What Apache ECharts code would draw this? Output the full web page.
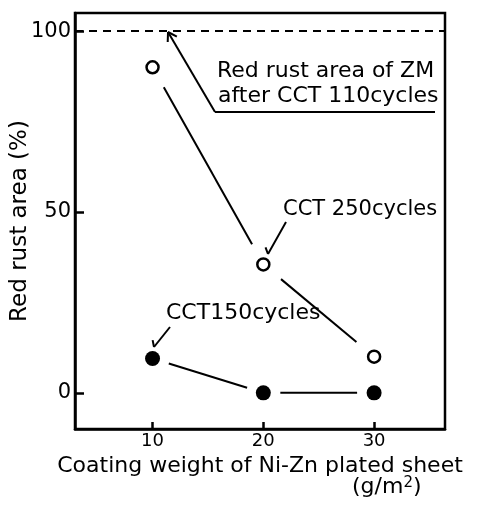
<!DOCTYPE html>
<html>
<head>
<meta charset="utf-8">
<script src="https://cdn.jsdelivr.net/npm/echarts@6/dist/echarts.min.js"></script>
<style>
  html, body { margin: 0; padding: 0; background: #fff; }
  #chart { width: 480px; height: 507px; }
</style>
</head>
<body>
<div id="chart"></div>
<script>
// data
var coatingWeight = [10, 20, 30];          // g/m2
var rust250 = [90, 35.5, 10];              // CCT 250cycles, open circles
var rust150 = [9.5, 0, 0];                 // CCT150cycles, filled circles
var zmRust110 = 100;                       // ZM after CCT 110cycles
var xTicks = [10, 20, 30];
var yTicks = [0, 50, 100];

var FONT = 'DejaVu Sans';

// pairs of neighbouring points -> segments
function toSegments(xs, ys) {
    var out = [];
    for (var i = 0; i < xs.length - 1; i++) {
        out.push([xs[i], ys[i], xs[i + 1], ys[i + 1]]);
    }
    return out;
}

// segment drawn with a gap near both markers
function gapLine(gap) {
    return function(params, api) {
        var a = api.coord([api.value(0), api.value(1)]);
        var b = api.coord([api.value(2), api.value(3)]);
        var dx = b[0] - a[0], dy = b[1] - a[1];
        var len = Math.sqrt(dx * dx + dy * dy);
        var ux = dx / len, uy = dy / len;
        return {
            type: 'line',
            shape: {
                x1: a[0] + ux * gap, y1: a[1] + uy * gap,
                x2: b[0] - ux * gap, y2: b[1] - uy * gap
            },
            style: { stroke: '#000', lineWidth: 2 }
        };
    };
}

// open arrow head: barbs rotated from the backward direction
function arrow(tail, tip, barbs, len) {
    var bx = tail[0] - tip[0], by = tail[1] - tip[1];
    var l = Math.sqrt(bx * bx + by * by);
    bx /= l; by /= l;
    var els = [{
        type: 'line',
        shape: { x1: tail[0], y1: tail[1], x2: tip[0], y2: tip[1] },
        style: { stroke: '#000', lineWidth: 2 }
    }];
    barbs.forEach(function(deg) {
        var r = deg * Math.PI / 180;
        var rx = bx * Math.cos(r) - by * Math.sin(r);
        var ry = bx * Math.sin(r) + by * Math.cos(r);
        els.push({
            type: 'line',
            shape: { x1: tip[0], y1: tip[1], x2: tip[0] + rx * len, y2: tip[1] + ry * len },
            style: { stroke: '#000', lineWidth: 2 }
        });
    });
    return els;
}

function label(text, x, y, size) {
    return {
        type: 'text', x: x, y: y,
        style: { text: text, fill: '#000', font: size + 'px "' + FONT + '"', verticalAlign: 'middle' }
    };
}

var openPts = coatingWeight.map(function(x, i) { return [x, rust250[i]]; });
var fillPts = coatingWeight.map(function(x, i) { return [x, rust150[i]]; });

var graphics = [
    label('Red rust area of ZM', 217, 71, 22),
    label('after CCT 110cycles', 218, 96, 22),
    label('CCT 250cycles', 283, 210, 21),
    label('CCT150cycles', 166, 313, 22),
    {
        type: 'text', x: 352, y: 487,
        style: {
            text: '(g/m{s|2})', fill: '#000', verticalAlign: 'middle',
            font: '22px "' + FONT + '"',
            rich: { s: { fontSize: 15, fontFamily: FONT, verticalAlign: 'top', padding: [0, 0, 8, 0] } }
        }
    },
    {
        type: 'line',
        shape: { x1: 215, y1: 112, x2: 435, y2: 112 },
        style: { stroke: '#000', lineWidth: 2 }
    }
].concat(arrow([215, 112], [168, 32], [-32, 32], 10))
 .concat(arrow([286, 222], [268, 254], [-50], 7))
 .concat(arrow([170, 327], [154, 347], [-50], 7));

var option = {
    backgroundColor: '#fff',
    animation: false,
    textStyle: { fontFamily: FONT, color: '#000' },
    grid: {
        left: 75, right: 35, top: 13, bottom: 78,
        containLabel: false, outerBoundsMode: 'none',
        show: true, borderColor: '#000', borderWidth: 2.5
    },
    xAxis: {
        type: 'value', min: 3, max: 36.4,
        name: 'Coating weight of Ni-Zn plated sheet',
        nameLocation: 'middle', nameGap: 26, nameMoveOverlap: false,
        nameTextStyle: { fontSize: 22, color: '#000', fontFamily: FONT },
        splitLine: { show: false },
        axisLine: { onZero: false, lineStyle: { color: '#000', width: 2.5 } },
        axisTick: { inside: true, length: 7, customValues: xTicks, lineStyle: { color: '#000', width: 2.5 } },
        axisLabel: { customValues: xTicks, fontSize: 18, margin: 3, color: '#000', fontFamily: FONT }
    },
    yAxis: {
        type: 'value', min: -10, max: 105,
        name: 'Red rust area (%)',
        nameLocation: 'middle', nameGap: 43, nameMoveOverlap: false,
        nameTextStyle: { fontSize: 23, color: '#000', fontFamily: FONT },
        splitLine: { show: false },
        axisLine: { show: true, onZero: false, lineStyle: { color: '#000', width: 2.5 } },
        axisTick: { show: true, inside: true, length: 9, customValues: yTicks, lineStyle: { color: '#000', width: 2.5 } },
        axisLabel: { customValues: yTicks, fontSize: 21, margin: 4, color: '#000', fontFamily: FONT }
    },
    series: [
        {
            type: 'custom', name: 'CCT 250 lines',
            renderItem: gapLine(23),
            encode: { x: [0, 2], y: [1, 3] },
            data: toSegments(coatingWeight, rust250),
            markLine: {
                silent: true, symbol: 'none', label: { show: false },
                lineStyle: { color: '#000', width: 2, type: [8, 6] },
                data: [{ yAxis: zmRust110 }]
            }
        },
        {
            type: 'custom', name: 'CCT150 lines',
            renderItem: gapLine(17),
            encode: { x: [0, 2], y: [1, 3] },
            data: toSegments(coatingWeight, rust150)
        },
        {
            type: 'scatter', name: 'CCT 250cycles',
            symbol: 'circle', symbolSize: 12,
            itemStyle: { color: '#fff', borderColor: '#000', borderWidth: 2.5, opacity: 1 },
            data: openPts
        },
        {
            type: 'scatter', name: 'CCT150cycles',
            symbol: 'circle', symbolSize: 15,
            itemStyle: { color: '#000', opacity: 1 },
            data: fillPts
        }
    ],
    graphic: graphics
};

var chart = echarts.init(document.getElementById('chart'), null, { renderer: 'canvas' });
chart.setOption(option);
</script>
</body>
</html>
